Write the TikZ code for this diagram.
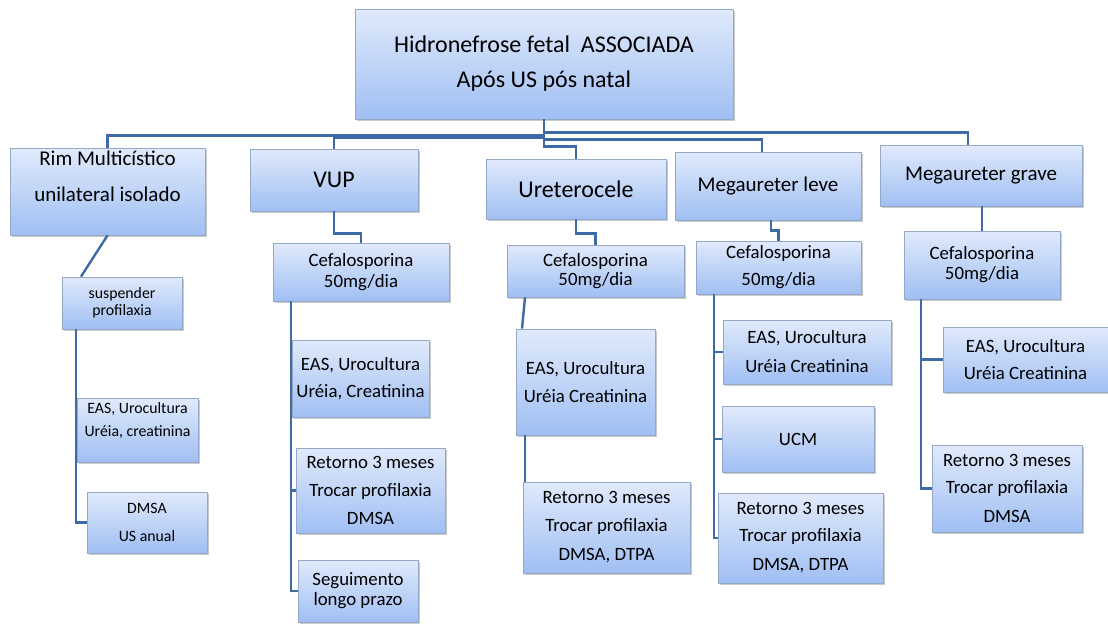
\documentclass[tikz,border=0pt]{standalone}
\usepackage{fontspec}
\setmainfont{Carlito}
\usetikzlibrary{shadows}
\definecolor{boxtop}{RGB}{224,234,251}
\definecolor{boxbot}{RGB}{160,191,243}
\definecolor{boxline}{RGB}{150,168,200}
\definecolor{linkc}{RGB}{62,106,166}

\begin{document}
\begin{tikzpicture}[
  x=1pt, y=-1pt,
  box/.style={draw=boxline, line width=0.8pt, top color=boxtop, bottom color=boxbot,
              align=center, inner sep=2pt, font=\fontsize{18.8}{22}\selectfont,
              drop shadow={shadow xshift=1.5pt, shadow yshift=-1.5pt, opacity=0.35, fill=black!60}},
  sz/.style 2 args={minimum width=#1, minimum height=#2},
  lift/.style={text depth=#1},
  head/.style={font=\fontsize{21}{25}\selectfont},
  small/.style={font=\fontsize{15.8}{18}\selectfont},
  link/.style={draw=linkc, line width=2.4pt}
]
\useasboundingbox (0,0) rectangle (1108,625);

% top and first row
\node[box, sz={378pt}{110pt}, font=\fontsize{24}{29}\selectfont] (root) at (544,64)
  {Hidronefrose fetal~ ASSOCIADA\\[6pt]Após US pós natal};
\node[box, head, sz={195pt}{87pt}, lift=31pt] (rim) at (107.5,191.5) {Rim Multicístico\\[11pt]unilateral isolado};
\node[box, sz={168pt}{62pt}, font=\fontsize{24}{29}\selectfont] (vup) at (334,180) {VUP};
\node[box, sz={180pt}{60pt}, font=\fontsize{24}{29}\selectfont] (ure) at (576,189) {Ureterocele};
\node[box, head, sz={186pt}{68pt}] (mleve) at (768,186) {Megaureter leve};
\node[box, head, sz={202pt}{61pt}] (mgrave) at (981,175.5) {Megaureter grave};

% second row
\node[box, small, sz={120pt}{52pt}] (susp) at (122,303) {suspender\\[-1pt]profilaxia};
\node[box, sz={176pt}{58pt}] (cefvup) at (361,272) {Cefalosporina\\[-1pt]50mg/dia};
\node[box, sz={177pt}{52pt}] (cefure) at (595.5,271) {Cefalosporina\\[-3pt]50mg/dia};
\node[box, sz={165pt}{53pt}] (cefml) at (778.5,267.5) {Cefalosporina\\[5pt]50mg/dia};
\node[box, sz={156pt}{68pt}] (cefmg) at (982,265) {Cefalosporina\\[-2pt]50mg/dia};

% rim column
\node[box, small, sz={121pt}{64pt}, lift=21pt] (rimeas) at (137.5,430) {EAS, Urocultura\\[5pt]Uréia, creatinina};
\node[box, small, sz={120pt}{61pt}] (rimdmsa) at (147,522.5) {DMSA\\[10pt]US anual};

% vup column
\node[box, sz={137pt}{77pt}] (vupeas) at (360.5,378.5) {EAS, Urocultura\\[5pt]Uréia, Creatinina};
\node[box, sz={149pt}{85pt}] (vupret) at (370.5,490.5) {Retorno 3 meses\\[6pt]Trocar profilaxia\\[6pt]DMSA};
\node[box, sz={120pt}{62pt}] (vupseg) at (358,591) {Seguimento\\[-2pt]longo prazo};

% ureterocele column
\node[box, sz={139pt}{106pt}] (ureeas) at (585.5,382) {EAS, Urocultura\\[6pt]Uréia Creatinina};
\node[box, sz={167pt}{91pt}] (ureret) at (606.5,527.5) {Retorno 3 meses\\[6pt]Trocar profilaxia\\[7pt]DMSA, DTPA};

% megaureter leve column
\node[box, sz={168pt}{64pt}] (mleas) at (807,352) {EAS, Urocultura\\[7pt]Uréia Creatinina};
\node[box, sz={152pt}{66pt}] (mlucm) at (798,439) {UCM};
\node[box, sz={165pt}{90pt}] (mlret) at (800.5,538) {Retorno 3 meses\\[5pt]Trocar profilaxia\\[7pt]DMSA, DTPA};

% megaureter grave column
\node[box, sz={165pt}{65pt}] (mgeas) at (1025.5,359.5) {EAS, Urocultura\\[5pt]Uréia Creatinina};
\node[box, sz={150pt}{87pt}] (mgret) at (1007,488.5) {Retorno 3 meses\\[5pt]Trocar profilaxia\\[7pt]DMSA};

% links from the top
\draw[link] (root.south) |- ([yshift=12pt]rim.north) -- (rim.north);
\draw[link] (root.south) |- ([yshift=11pt]vup.north) -- (vup.north);
\draw[link] (root.south) |- ([yshift=12pt]ure.north) -- (ure.north);
\draw[link] (root.south) |- ([xshift=-6pt,yshift=12pt]mleve.north) -- ([xshift=-6pt]mleve.north);
\draw[link] (root.south) |- ([xshift=-13pt,yshift=12pt]mgrave.north) -- ([xshift=-13pt]mgrave.north);

% first row to second row
\draw[link] (rim.south) -- ([xshift=-41pt]susp.north);
\draw[link] (vup.south) -- ++(0,22) -| (cefvup.north);
\draw[link] (ure.south) -- ++(0,14) -| (cefure.north);
\draw[link] ([xshift=3pt]mleve.south) -- ++(0,10) -| (cefml.north);
\draw[link] ([xshift=1pt]mgrave.south) -- (cefmg.north);

% columns
\draw[link] ([xshift=-46pt]susp.south) |- (rimeas.west);
\draw[link] ([xshift=-46pt]susp.south) |- (rimdmsa.west);
\draw[link] ([xshift=-70pt]cefvup.south) |- (vupeas.west);
\draw[link] ([xshift=-70pt]cefvup.south) |- (vupret.west);
\draw[link] ([xshift=-70pt]cefvup.south) |- (vupseg.west);
\draw[link] ([xshift=-70.5pt]cefure.south) -- ([xshift=-63.5pt]ureeas.north);
\draw[link] ([xshift=-60.5pt]ureeas.south) -- ([xshift=-81.5pt]ureret.north);
\draw[link] ([xshift=-64.5pt]cefml.south) |- (mleas.west);
\draw[link] ([xshift=-64.5pt]cefml.south) |- (mlucm.west);
\draw[link] ([xshift=-64.5pt]cefml.south) |- (mlret.west);
\draw[link] ([xshift=-61pt]cefmg.south) |- (mgeas.west);
\draw[link] ([xshift=-61pt]cefmg.south) |- (mgret.west);
\end{tikzpicture}
\end{document}
